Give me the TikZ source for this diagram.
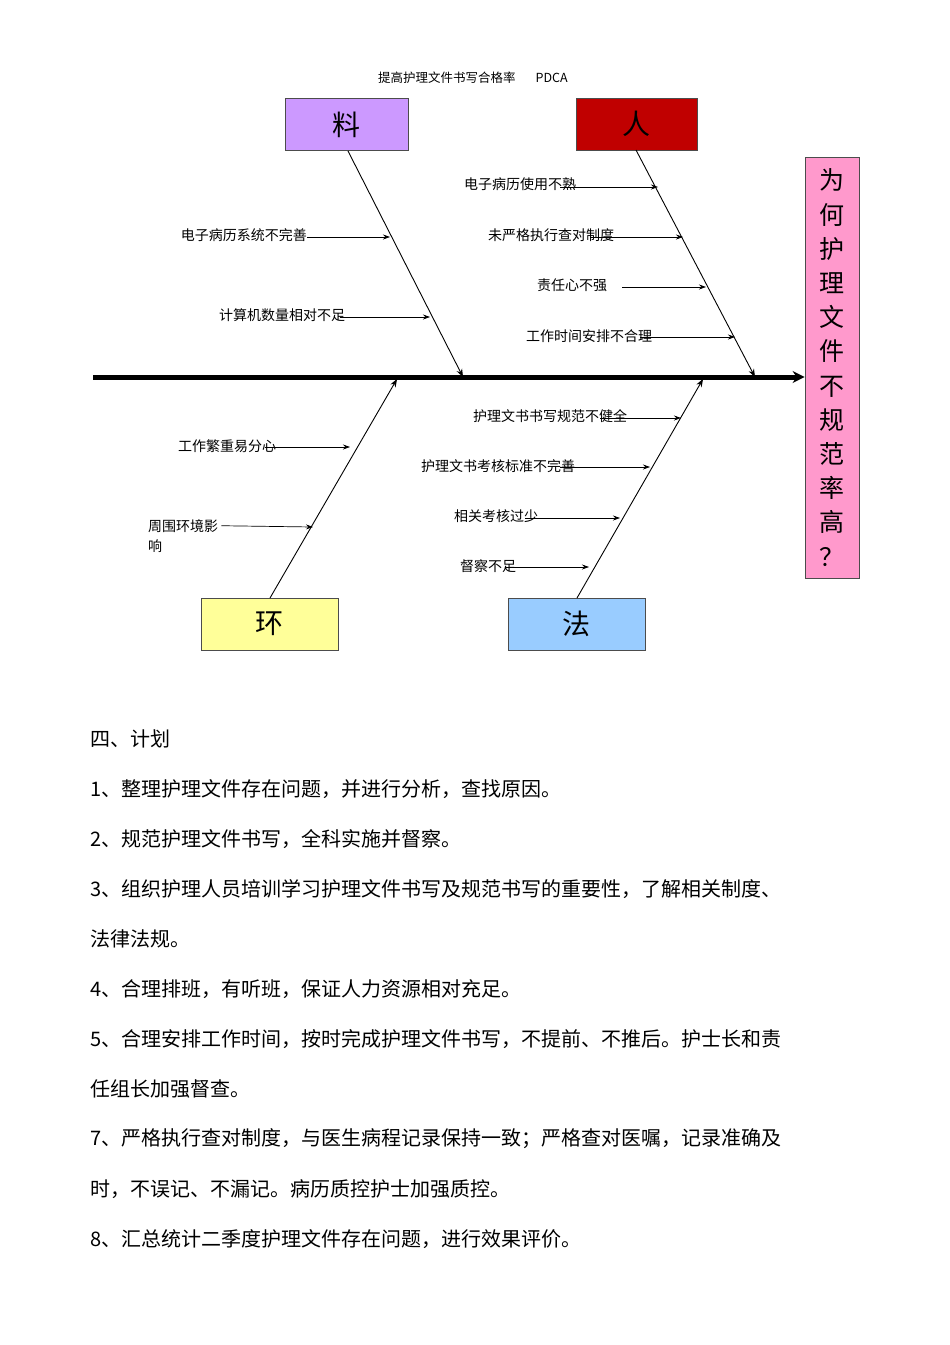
\documentclass[tikz,border=0pt]{standalone}
\usepackage{fontspec}
\setmainfont{Liberation Serif}
\newfontfamily\cjk{Noto Sans CJK SC}
\usetikzlibrary{arrows.meta}
\definecolor{lav}{HTML}{CC99FF}
\definecolor{dred}{HTML}{C00000}
\definecolor{pinkb}{HTML}{FF99CC}
\definecolor{yel}{HTML}{FFFF99}
\definecolor{lblue}{HTML}{99CCFF}
\tikzset{
 cat/.style={draw=black!70,line width=0.8pt,minimum width=#1,minimum height=52pt,inner sep=0pt,font=\cjk\fontsize{28}{30}\selectfont},
 lbl/.style={font=\cjk\fontsize{14}{16}\selectfont,inner sep=0pt},
 sub/.style={-{Stealth[length=7pt,width=5pt]},line width=0.7pt},
 bone/.style={-{Stealth[length=8pt,width=6pt]},line width=0.9pt},
 body/.style={anchor=west,font=\cjk\fontsize{20}{22}\selectfont,inner sep=0pt}
}
\begin{document}
\begin{tikzpicture}[x=1pt,y=-1pt]
\useasboundingbox[fill=white] (0,0) rectangle (950,1345);
\node[lbl,font=\cjk\fontsize{12.5}{14}\selectfont] (title) at (473,78) {提高护理文件书写合格率\hspace{20pt}PDCA};
\node[cat=123pt,fill=lav] (liao) at (346.5,124.5) {料};
\node[cat=121pt,fill=dred] (ren) at (636.5,124) {人};
\node[cat=137pt,fill=yel] (huan) at (269.5,624) {环};
\node[cat=137pt,fill=lblue] (fa) at (576.5,624) {法};
\node[draw=black!70,line width=0.8pt,fill=pinkb,minimum width=54pt,minimum height=421pt,inner sep=0pt,
  font=\cjk\fontsize{25}{34.2}\selectfont,align=center] (q) at (832,367.5)
  {为\\何\\护\\理\\文\\件\\不\\规\\范\\率\\高\\？};
\coordinate (s0) at (93,377);
\draw[line width=5pt,-{Stealth[length=12pt,width=12pt]}] (s0) -- (q.west |- s0);
% main bones
\coordinate (lb) at (463,377); \coordinate (rb) at (755,377);
\coordinate (hb) at (397,379); \coordinate (fb) at (703,379);
\draw[bone] (348,151) -- (lb);
\draw[bone] (636,150) -- (rb);
\draw[bone] (270,598) -- (hb);
\draw[bone] (577,598) -- (fb);
% labels
\node[lbl,anchor=east] (l1) at (307,235) {电子病历系统不完善};
\coordinate (l1e) at (390,237); \draw[sub] (l1.east) ++(0,2) -- (l1e);
\node[lbl] (l2) at (282,315) {计算机数量相对不足};
\coordinate (l2s) at (340,317); \coordinate (l2e) at (430,317); \draw[sub] (l2s) -- (l2e);
\node[lbl] (r1) at (520,184) {电子病历使用不熟};
\coordinate (r1s) at (560,187); \coordinate (r1e) at (658,187); \draw[sub] (r1s) -- (r1e);
\node[lbl] (r2) at (551,235) {未严格执行查对制度};
\coordinate (r2s) at (590,237); \coordinate (r2e) at (683,237); \draw[sub] (r2s) -- (r2e);
\node[lbl] (r3) at (572,285) {责任心不强};
\coordinate (r3s) at (622,287); \coordinate (r3e) at (706,287); \draw[sub] (r3s) -- (r3e);
\node[lbl] (r4) at (589,336) {工作时间安排不合理};
\coordinate (r4s) at (640,337); \coordinate (r4e) at (735,337); \draw[sub] (r4s) -- (r4e);
\node[lbl] (h1) at (227,446) {工作繁重易分心};
\coordinate (h1s) at (265,447); \coordinate (h1e) at (350,447); \draw[sub] (h1s) -- (h1e);
\node[lbl,anchor=north west] (h2) at (148,519) {周围环境影};
\node[lbl,anchor=north west] (h2b) at (148,540) {响};
\coordinate (h2e) at (313,527); \draw[sub] (h2.east) ++(3,0) -- (h2e);
\node[lbl] (f1) at (550,416) {护理文书书写规范不健全};
\coordinate (f1s) at (600,418); \coordinate (f1e) at (681,418); \draw[sub] (f1s) -- (f1e);
\node[lbl] (f2) at (498,466) {护理文书考核标准不完善};
\coordinate (f2s) at (560,467); \coordinate (f2e) at (650,467); \draw[sub] (f2s) -- (f2e);
\node[lbl] (f3) at (496,516) {相关考核过少};
\coordinate (f3s) at (525,518); \coordinate (f3e) at (620,518); \draw[sub] (f3s) -- (f3e);
\node[lbl] (f4) at (488,566) {督察不足};
\coordinate (f4s) at (505,567); \coordinate (f4e) at (589,567); \draw[sub] (f4s) -- (f4e);
% body text
\node[body] (t0) at (90,739) {四、计划};
\node[body] (t1) at (90,789) {1、整理护理文件存在问题，并进行分析，查找原因。};
\node[body] (t2) at (90,839) {2、规范护理文件书写，全科实施并督察。};
\node[body] (t3) at (90,889) {3、组织护理人员培训学习护理文件书写及规范书写的重要性，了解相关制度、};
\node[body] (t4) at (90,939) {法律法规。};
\node[body] (t5) at (90,989) {4、合理排班，有听班，保证人力资源相对充足。};
\node[body] (t6) at (90,1039) {5、合理安排工作时间，按时完成护理文件书写，不提前、不推后。护士长和责};
\node[body] (t7) at (90,1089) {任组长加强督查。};
\node[body] (t8) at (90,1139) {7、严格执行查对制度，与医生病程记录保持一致；严格查对医嘱，记录准确及};
\node[body] (t9) at (90,1189) {时，不误记、不漏记。病历质控护士加强质控。};
\node[body] (t10) at (90,1239) {8、汇总统计二季度护理文件存在问题，进行效果评价。};
\end{tikzpicture}
\end{document}
